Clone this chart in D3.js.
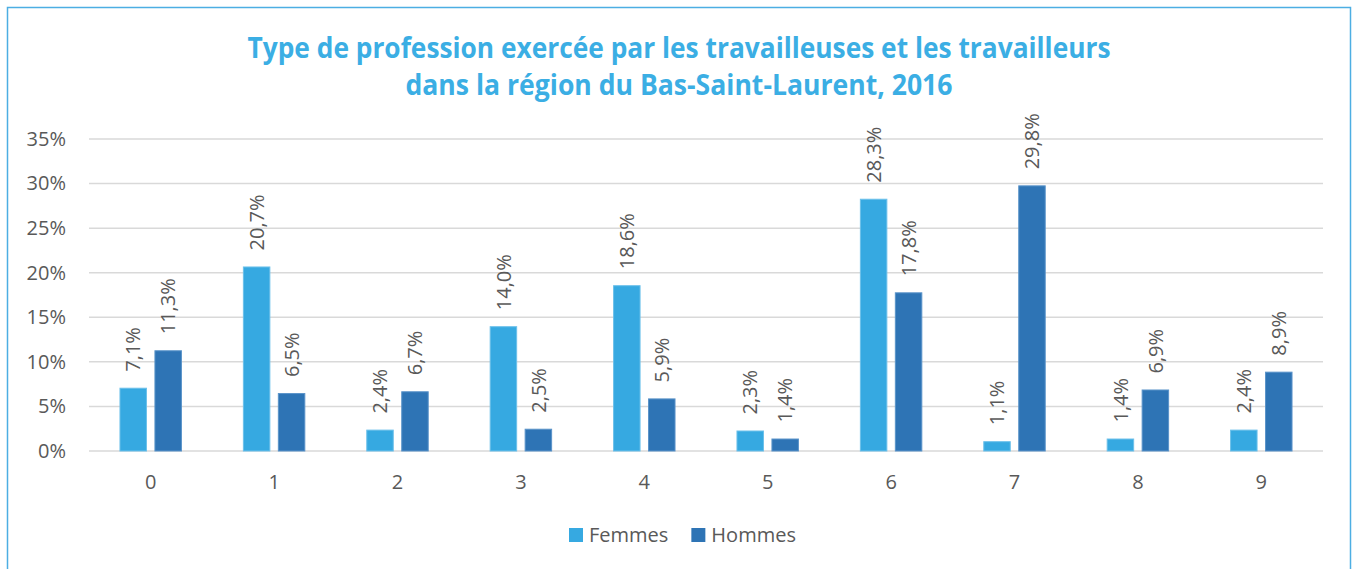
<!DOCTYPE html>
<html>
<head>
<meta charset="utf-8">
<script src="https://cdn.jsdelivr.net/npm/d3@7"></script>
<style>
  html, body { margin: 0; padding: 0; background: #ffffff; }
  svg { display: block; font-family: "Open Sans", "Noto Sans", sans-serif; }
</style>
</head>
<body>
<svg id="chart" width="1353" height="569"></svg>
<script>
// ---- Data ----
const categories = ["0", "1", "2", "3", "4", "5", "6", "7", "8", "9"];
const seriesNames = ["Femmes", "Hommes"];
const femmes = [7.1, 20.7, 2.4, 14.0, 18.6, 2.3, 28.3, 1.1, 1.4, 2.4];
const hommes = [11.3, 6.5, 6.7, 2.5, 5.9, 1.4, 17.8, 29.8, 6.9, 8.9];
const yTicks = [0, 5, 10, 15, 20, 25, 30, 35];
const titleLines = [
  "Type de profession exercée par les travailleuses et les travailleurs",
  "dans la région du Bas-Saint-Laurent, 2016"
];

// ---- Styles ----
const colors = { Femmes: "#36A9E1", Hommes: "#2E74B5" };
const strokes = { Femmes: "#6CC0EA", Hommes: "#5A93C9" };
const textColor = "#595959";
const titleColor = "#3BAEE4";
const gridColor = "#D9D9D9";

const svg = d3.select("#chart");

// Outer border
svg.append("rect")
  .attr("x", 7.5).attr("y", 7.5)
  .attr("width", 1343).attr("height", 620)
  .attr("fill", "none")
  .attr("stroke", "#4DAEE3")
  .attr("stroke-width", 1.5);

// Plot area
const plot = { left: 89, right: 1323, top: 139, bottom: 451 };

const x0 = d3.scaleBand().domain(categories).range([plot.left, plot.right]).padding(0);
const bw = x0.bandwidth();
const x1 = d3.scaleBand().domain(seriesNames)
  .range([bw * 0.247, bw * 0.753]).paddingInner(0.214).paddingOuter(0);
const y = d3.scaleLinear().domain([0, 35]).range([plot.bottom, plot.top]);

// Gridlines
svg.append("g")
  .selectAll("line").data(yTicks).join("line")
  .attr("x1", plot.left).attr("x2", plot.right)
  .attr("y1", d => y(d)).attr("y2", d => y(d))
  .attr("stroke", gridColor).attr("stroke-width", 1.5);

// Y axis labels
const yAxis = d3.axisLeft(y).tickValues(yTicks).tickFormat(d => d + "%").tickSize(0).tickPadding(0);
const yg = svg.append("g").attr("transform", `translate(${66},0)`).call(yAxis);
yg.select(".domain").remove();
yg.selectAll("text")
  .attr("fill", textColor).style("font-size", "20px")
  .style("font-family", '"Open Sans", sans-serif');

// X axis labels
const xAxis = d3.axisBottom(x0).tickSize(0).tickPadding(0);
const xg = svg.append("g").attr("transform", `translate(0,${475})`).call(xAxis);
xg.select(".domain").remove();
xg.selectAll("text")
  .attr("fill", textColor).style("font-size", "20px")
  .style("font-family", '"Open Sans", sans-serif');

// Bars
const rows = categories.map((c, i) => ({ cat: c, values: [
  { key: "Femmes", v: femmes[i] },
  { key: "Hommes", v: hommes[i] }
]}));

const groups = svg.append("g").selectAll("g").data(rows).join("g")
  .attr("transform", d => `translate(${x0(d.cat)},0)`);

groups.selectAll("rect").data(d => d.values).join("rect")
  .attr("x", d => x1(d.key) + 0.5)
  .attr("y", d => y(d.v) + 0.5)
  .attr("width", x1.bandwidth() - 1)
  .attr("height", d => y(0) - y(d.v) - 0.5)
  .attr("fill", d => colors[d.key])
  .attr("stroke", d => strokes[d.key])
  .attr("stroke-width", 1);

const fmt = v => v.toFixed(1).replace(".", ",") + "%";

groups.selectAll("text").data(d => d.values).join("text")
  .attr("transform", d => `translate(${x1(d.key) + x1.bandwidth() / 2},${y(d.v) - 16}) rotate(-90)`)
  .attr("dy", "0.36em")
  .attr("text-anchor", "start")
  .attr("fill", textColor)
  .style("font-size", "20px")
  .text(d => fmt(d.v));

// Title
const titleTargets = [863, 547];
const titleBaselines = [58, 95];
titleLines.forEach((t, i) => {
  const el = svg.append("text")
    .attr("x", 679).attr("y", titleBaselines[i])
    .attr("text-anchor", "middle")
    .attr("fill", titleColor)
    .style("font-size", "28px").style("font-weight", "700")
    .text(t);
  const w = el.node().getComputedTextLength();
  if (w > titleTargets[i]) {
    el.attr("textLength", titleTargets[i]).attr("lengthAdjust", "spacingAndGlyphs");
  }
});

// Legend
const legend = svg.append("g");
let lx = 569;
seriesNames.forEach(name => {
  legend.append("rect")
    .attr("x", lx).attr("y", 528).attr("width", 14).attr("height", 14)
    .attr("fill", colors[name]);
  const t = legend.append("text")
    .attr("x", lx + 20).attr("y", 542)
    .attr("fill", textColor).style("font-size", "20px")
    .text(name);
  lx += 20 + t.node().getComputedTextLength() + 23;
});
</script>
</body>
</html>
